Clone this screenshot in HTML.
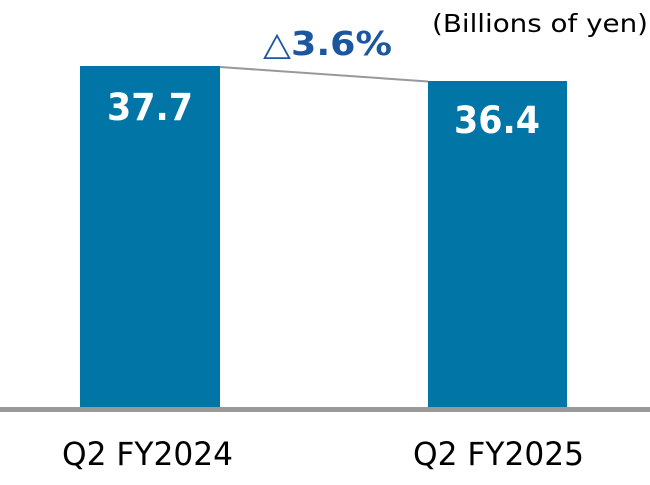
<!DOCTYPE html>
<html><head><style>html,body{margin:0;padding:0;background:#fff}</style></head>
<body>
<svg width="650" height="480" xmlns="http://www.w3.org/2000/svg" font-family="'DejaVu Sans', 'Liberation Sans', sans-serif">
<rect x="80" y="66" width="140" height="342" fill="#0075a6"/>
<rect x="428" y="81" width="139" height="327" fill="#0075a6"/>
<line x1="220" y1="67" x2="428" y2="81.5" stroke="#999" stroke-width="2"/>
<rect x="0" y="407" width="650" height="5" fill="#999"/>
<text x="150" y="120" text-anchor="middle" font-size="37" font-weight="bold" fill="#fff" textLength="86" lengthAdjust="spacingAndGlyphs">37.7</text>
<text x="497" y="133" text-anchor="middle" font-size="37" font-weight="bold" fill="#fff" textLength="86" lengthAdjust="spacingAndGlyphs">36.4</text>
<text x="263" y="55" font-size="33" font-weight="bold" fill="#1a57a0" textLength="129" lengthAdjust="spacingAndGlyphs">△3.6%</text>
<text x="432" y="32" font-size="25" fill="#000" textLength="216" lengthAdjust="spacingAndGlyphs">(Billions of yen)</text>
<text x="62" y="465" font-size="32" fill="#000" textLength="171" lengthAdjust="spacingAndGlyphs">Q2 FY2024</text>
<text x="413" y="465" font-size="32" fill="#000" textLength="171" lengthAdjust="spacingAndGlyphs">Q2 FY2025</text>
</svg>
</body></html>
